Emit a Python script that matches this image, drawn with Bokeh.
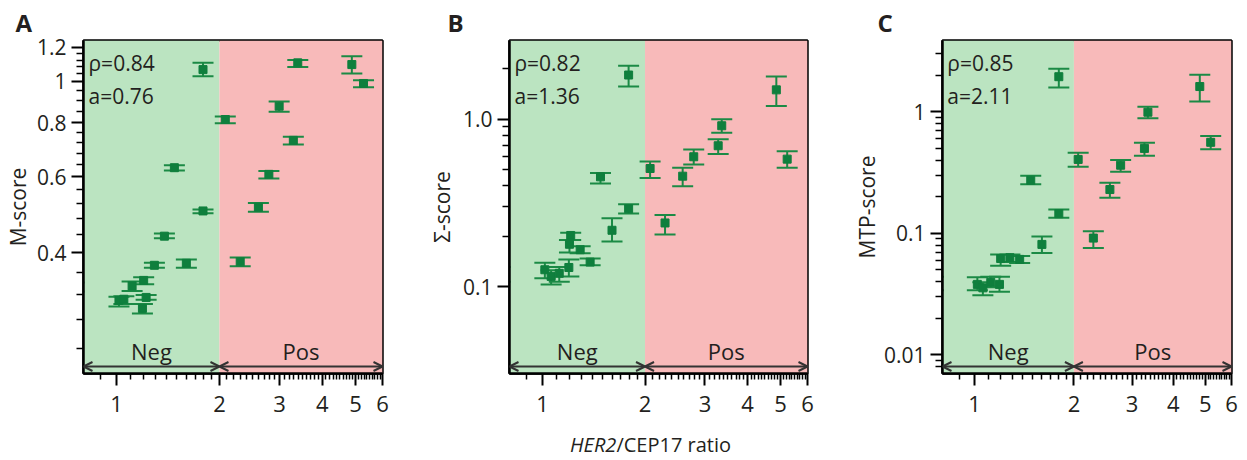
import numpy as np
from bokeh.plotting import figure
from bokeh.layouts import row, column
from bokeh.models import (BoxAnnotation, Label, Arrow, OpenHead, Div,
                          FixedTicker, CustomJSTickFormatter)
from bokeh.embed import file_html
from bokeh.resources import INLINE

# ---------------- data ----------------
# Panel A : M-score
ratio_a = [0.75, 1.016, 1.05, 1.11, 1.19, 1.20, 1.22, 1.29, 1.38, 1.476, 1.60, 1.79, 1.79,
           2.08, 2.30, 2.60, 2.79, 2.99, 3.29, 3.39, 4.88, 5.28]
m_score = [0.333, 0.310, 0.312, 0.335, 0.297, 0.345, 0.315, 0.374, 0.437, 0.630, 0.378, 1.064, 0.500,
           0.815, 0.381, 0.510, 0.608, 0.875, 0.729, 1.103, 1.093, 0.988]
m_lo = [0.325, 0.300, 0.304, 0.326, 0.289, 0.338, 0.311, 0.369, 0.432, 0.621, 0.369, 1.027, 0.494,
        0.799, 0.372, 0.498, 0.595, 0.849, 0.713, 1.079, 1.042, 0.968]
m_hi = [0.341, 0.316, 0.317, 0.343, 0.304, 0.351, 0.319, 0.379, 0.443, 0.638, 0.386, 1.103, 0.504,
        0.828, 0.390, 0.522, 0.619, 0.897, 0.743, 1.120, 1.143, 1.005]

# Panel B : Sigma-score
ratio_b = [0.75, 1.016, 1.06, 1.12, 1.195, 1.20, 1.21, 1.29, 1.38, 1.48, 1.60, 1.79, 1.79,
           2.07, 2.29, 2.58, 2.78, 3.28, 3.36, 4.86, 5.23]
s_score = [0.118, 0.126, 0.115, 0.120, 0.130, 0.179, 0.202, 0.166, 0.140, 0.453, 0.217, 1.84, 0.292,
           0.508, 0.240, 0.457, 0.597, 0.695, 0.915, 1.50, 0.578]
s_lo = [0.107, 0.112, 0.103, 0.107, 0.115, 0.160, 0.190, 0.158, 0.134, 0.413, 0.186, 1.57, 0.273,
        0.446, 0.205, 0.398, 0.537, 0.620, 0.830, 1.20, 0.513]
s_hi = [0.131, 0.139, 0.125, 0.131, 0.145, 0.190, 0.210, 0.174, 0.147, 0.478, 0.256, 2.09, 0.310,
        0.560, 0.268, 0.513, 0.660, 0.760, 1.00, 1.80, 0.645]

# Panel C : MTP-score
ratio_c = [0.75, 1.02, 1.06, 1.12, 1.19, 1.20, 1.28, 1.37, 1.48, 1.60, 1.80, 1.80,
           2.06, 2.29, 2.57, 2.77, 3.27, 3.35, 4.81, 5.19]
mtp_score = [0.039, 0.038, 0.0356, 0.0395, 0.038, 0.062, 0.063, 0.061, 0.273, 0.081, 1.94, 0.145,
             0.405, 0.0913, 0.229, 0.363, 0.499, 0.99, 1.61, 0.56]
mtp_lo = [0.034, 0.034, 0.031, 0.036, 0.033, 0.054, 0.058, 0.057, 0.253, 0.069, 1.58, 0.134,
          0.352, 0.0757, 0.196, 0.320, 0.434, 0.882, 1.21, 0.49]
mtp_hi = [0.044, 0.0435, 0.0395, 0.044, 0.044, 0.067, 0.067, 0.065, 0.298, 0.094, 2.25, 0.157,
          0.459, 0.104, 0.260, 0.400, 0.555, 1.10, 2.01, 0.63]

stats_a = ["ρ=0.84", "a=0.76"]
stats_b = ["ρ=0.82", "a=1.36"]
stats_c = ["ρ=0.85", "a=2.11"]

x_ticks = [1, 2, 3, 4, 5, 6]
x_minor = [0.9] + [round(v, 1) for v in np.arange(1.1, 2.0, 0.1)] + \
          [round(v, 1) for v in np.arange(2.1, 6.0, 0.1) if abs(v - round(v)) > 0.05]
ya_ticks = [0.4, 0.6, 0.8, 1, 1.2]
ya_minor = [0.24, 0.28, 0.32, 0.36, 0.44, 0.48, 0.52, 0.56, 0.64, 0.68, 0.72, 0.76,
            0.85, 0.9, 0.95, 1.04, 1.08, 1.12, 1.16]
yb_ticks = [0.1, 1.0]
yb_minor = [0.2, 0.3, 0.4, 0.5, 0.6, 0.7, 0.8, 0.9, 2.0]
yc_ticks = [0.01, 0.1, 1]
yc_minor = [0.008, 0.009, 0.02, 0.03, 0.04, 0.05, 0.06, 0.07, 0.08, 0.09,
            0.2, 0.3, 0.4, 0.5, 0.6, 0.7, 0.8, 0.9, 2, 3]

# ---------------- style ----------------
X_RANGE = (0.8, 6.0)
FONT = "Open Sans"
TXT = "#231f20"
GREEN_BG = "#bbe4c1"
PINK_BG = "#f8baba"
MARK = "#0f7f3d"
BAR = "#1b8a45"
H = 430
TOP = 40
FH = 333


def panel(letter, ylabel, x, y, lo, hi, yrange, yticks, yminor, yfmt, stats,
          width, left, fw, ylab_standoff, letter_x):
    right = width - left - fw
    p = figure(width=width, height=H, x_axis_type="log", y_axis_type="log",
               x_range=X_RANGE, y_range=yrange,
               min_border_left=left, min_border_right=right,
               min_border_top=TOP, min_border_bottom=H - TOP - FH,
               output_backend="svg", toolbar_location=None)
    ylo, yhi = yrange

    def dx(off):
        return X_RANGE[0] * (X_RANGE[1] / X_RANGE[0]) ** (off / fw)

    def dy(off):
        return ylo * (yhi / ylo) ** (1 - off / FH)

    p.grid.visible = False
    p.outline_line_color = "black"
    p.outline_line_width = 2.5
    p.outline_line_alpha = 1.0
    p.background_fill_color = "white"
    p.border_fill_color = "white"

    # panel letter as the title
    p.title.text = letter
    p.title.align = "left"
    p.title.offset = letter_x
    p.title.standoff = 3
    p.title.text_font = FONT
    p.title.text_font_size = "24px"
    p.title.text_font_style = "bold"
    p.title.text_color = TXT

    p.add_layout(BoxAnnotation(right=2, fill_color=GREEN_BG, fill_alpha=1, line_alpha=0, level="underlay"))
    p.add_layout(BoxAnnotation(left=2, fill_color=PINK_BG, fill_alpha=1, line_alpha=0, level="underlay"))

    # error bars
    p.segment(x0=x, y0=lo, x1=x, y1=hi, line_color=BAR, line_width=2)
    p.scatter(x=x, y=lo, marker="dash", size=21, line_color=BAR, line_width=2)
    p.scatter(x=x, y=hi, marker="dash", size=21, line_color=BAR, line_width=2)
    p.scatter(x=x, y=y, marker="square", size=8, fill_color=MARK, line_color=MARK)

    # axes
    for ax, ticks, minor, fmt in ((p.xaxis[0], x_ticks, x_minor, "return tick.toString();"),
                                  (p.yaxis[0], yticks, yminor, yfmt)):
        ax.ticker = FixedTicker(ticks=ticks, minor_ticks=minor)
        ax.formatter = CustomJSTickFormatter(code=fmt)
        ax.axis_line_width = 2.5
        ax.axis_line_color = "black"
        ax.major_tick_line_width = 2
        ax.minor_tick_line_width = 1.5
        ax.major_tick_in = 0
        ax.minor_tick_in = 0
        ax.major_label_text_font = FONT
        ax.major_label_text_color = TXT
    p.xaxis.major_tick_out = 12
    p.xaxis.minor_tick_out = 6
    p.xaxis.major_label_text_font_size = "22px"
    p.xaxis.major_label_standoff = 10
    p.yaxis.major_tick_out = 12
    p.yaxis.minor_tick_out = 7
    p.yaxis.major_label_text_font_size = "21px"
    p.yaxis.major_label_standoff = 5
    p.yaxis.axis_label = ylabel
    p.yaxis.axis_label_text_font = FONT
    p.yaxis.axis_label_text_font_size = "21px"
    p.yaxis.axis_label_text_font_style = "normal"
    p.yaxis.axis_label_text_color = TXT
    p.yaxis.axis_label_standoff = ylab_standoff

    # region arrows and labels
    ya = dy(FH - 7)
    for x0, x1 in ((X_RANGE[0], 2), (2, X_RANGE[1])):
        p.add_layout(Arrow(x_start=x0, y_start=ya, x_end=x1, y_end=ya,
                           line_color="#333333", line_width=2,
                           start=OpenHead(size=9, line_color="#333333", line_width=2),
                           end=OpenHead(size=9, line_color="#333333", line_width=2)))
    yt = dy(FH - 23)
    p.add_layout(Label(x=(X_RANGE[0] * 2) ** 0.5, y=yt, text="Neg", text_align="center",
                       text_baseline="alphabetic", text_font=FONT, text_font_size="22px", text_color=TXT))
    p.add_layout(Label(x=(2 * X_RANGE[1]) ** 0.5, y=yt, text="Pos", text_align="center",
                       text_baseline="alphabetic", text_font=FONT, text_font_size="22px", text_color=TXT))

    # statistics
    for i, s in enumerate(stats):
        p.add_layout(Label(x=dx(5), y=dy(22.5 + 32.5 * i), text=s, text_align="left",
                           text_baseline="alphabetic", text_font=FONT, text_font_size="21px", text_color=TXT))
    return p


pa = panel("A", "M-score", ratio_a, m_score, m_lo, m_hi, (0.2098, 1.243),
           ya_ticks, ya_minor, "return tick.toString();", stats_a,
           424, 83, 299, 2, -68)
pb = panel("B", "Σ-score", ratio_b, s_score, s_lo, s_hi, (0.0302, 2.96),
           yb_ticks, yb_minor, "return tick.toFixed(1);", stats_b,
           425, 83, 300, 4, -62)
pc = panel("C", "MTP-score", ratio_c, mtp_score, mtp_lo, mtp_hi, (0.00703, 3.85),
           yc_ticks, yc_minor, "return tick.toString();", stats_c,
           390, 83, 299, 0, -65)

# shared x-axis title under the middle panel
xtitle = Div(
    text='<div style="position:relative; top:-4px; padding-left:565px; white-space:nowrap; '
         'font-family:\'Open Sans\'; font-size:20px; color:#231f20;">'
         '<i>HER2</i>/CEP17 ratio</div>',
    width=1239, height=30)

layout = column(row(pa, pb, pc), xtitle)
open("out.html", "w").write(file_html(layout, INLINE))
